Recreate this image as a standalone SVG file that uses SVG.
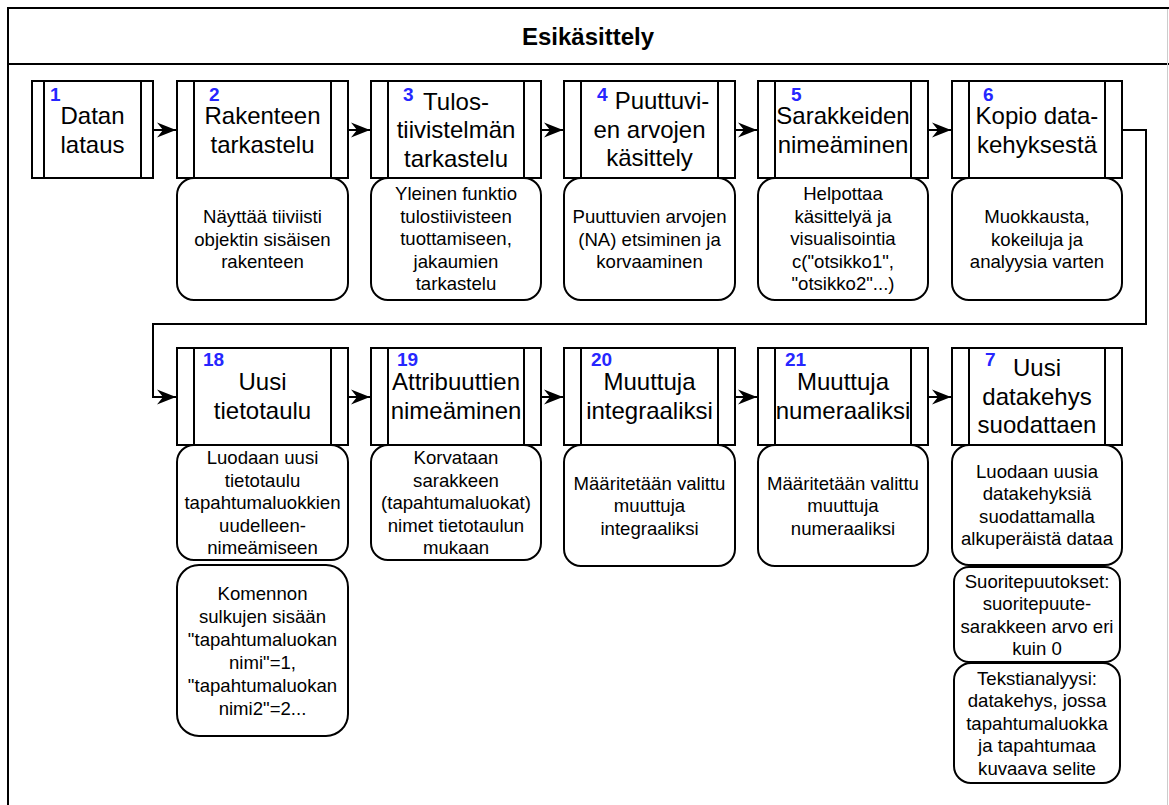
<svg xmlns="http://www.w3.org/2000/svg" width="1169" height="805" viewBox="0 0 1169 805">
  <style>
    .frame { fill: #ffffff; stroke: #000000; stroke-width: 2; }
    .proc { fill: #ffffff; stroke: #000000; stroke-width: 2; }
    .bar { stroke: #000000; stroke-width: 2; }
    .note { fill: #ffffff; stroke: #000000; stroke-width: 2; }
    .title { font-family: "Liberation Sans", Arial, sans-serif; font-size: 24px; fill: #000000; text-anchor: middle; }
    .num { font-family: "Liberation Sans", Arial, sans-serif; font-size: 19px; font-weight: bold; fill: #2626ff; }
    .desc { font-family: "Liberation Sans", Arial, sans-serif; font-size: 18.6px; fill: #000000; text-anchor: middle; }
    .head { font-family: "Liberation Sans", Arial, sans-serif; font-size: 24px; font-weight: bold; fill: #000000; text-anchor: middle; }
    .edge { fill: none; stroke: #000000; stroke-width: 2; }
  </style>
  <defs>
    <marker id="arrow" markerUnits="userSpaceOnUse" markerWidth="22" markerHeight="18" viewBox="-20 -9 22 18" refX="0" refY="0" orient="auto">
      <path d="M0,0 L-19,-7.5 L-13,0 L-19,7.5 Z" fill="#000000"/>
    </marker>
  </defs>

  <rect width="1169" height="805" fill="#ffffff"/>

  <!-- swimlane container -->
  <g id="container">
    <rect class="frame" x="8" y="8" width="1180" height="820"/>
    <line x1="8" y1="64" x2="1169" y2="64" stroke="#000000" stroke-width="2"/>
    <text class="head" x="588" y="44.5">Esikäsittely</text>
    <line x1="1167.5" y1="9" x2="1167.5" y2="805" stroke="#cccccc" stroke-width="1"/>
  </g>

  <!-- connectors -->
  <g id="connectors">
    <path class="edge" d="M153,130 H176" marker-end="url(#arrow)"/>
    <path class="edge" d="M348,130 H370" marker-end="url(#arrow)"/>
    <path class="edge" d="M541,130 H563" marker-end="url(#arrow)"/>
    <path class="edge" d="M735,130 H757" marker-end="url(#arrow)"/>
    <path class="edge" d="M928,130 H951" marker-end="url(#arrow)"/>
    <path class="edge" d="M1122,130 H1146 V324 H153 V397 H176" marker-end="url(#arrow)"/>
    <path class="edge" d="M348,397 H370" marker-end="url(#arrow)"/>
    <path class="edge" d="M541,397 H563" marker-end="url(#arrow)"/>
    <path class="edge" d="M735,397 H757" marker-end="url(#arrow)"/>
    <path class="edge" d="M928,397 H951" marker-end="url(#arrow)"/>
  </g>

  <!-- row 1 -->
  <g id="node1">
    <rect class="proc" x="32" y="81" width="121" height="97"/>
    <line class="bar" x1="44" y1="81" x2="44" y2="178"/>
    <line class="bar" x1="141" y1="81" x2="141" y2="178"/>
    <text class="num" x="50" y="101">1</text>
    <text class="title"><tspan x="92.5" y="123.5">Datan</tspan><tspan x="92.5" y="152.5">lataus</tspan></text>
  </g>

  <g id="node2">
    <rect class="proc" x="177" y="81" width="171" height="97"/>
    <line class="bar" x1="194" y1="81" x2="194" y2="178"/>
    <line class="bar" x1="331" y1="81" x2="331" y2="178"/>
    <text class="num" x="209" y="101">2</text>
    <text class="title"><tspan x="262.5" y="123.5">Rakenteen</tspan><tspan x="262.5" y="152.5">tarkastelu</tspan></text>
  </g>
  <g id="desc2">
    <rect class="note" x="177" y="178" width="171" height="122" rx="17"/>
    <text class="desc"><tspan x="262.5" y="223">Näyttää tiiviisti</tspan><tspan x="262.5" y="245.5">objektin sisäisen</tspan><tspan x="262.5" y="268">rakenteen</tspan></text>
  </g>

  <g id="node3">
    <rect class="proc" x="371" y="81" width="170" height="97"/>
    <line class="bar" x1="388" y1="81" x2="388" y2="178"/>
    <line class="bar" x1="524" y1="81" x2="524" y2="178"/>
    <text class="num" x="403" y="101">3</text>
    <text class="title"><tspan x="456" y="109.5">Tulos-</tspan><tspan x="456" y="138">tiivistelmän</tspan><tspan x="456" y="166.5">tarkastelu</tspan></text>
  </g>
  <g id="desc3">
    <rect class="note" x="371" y="178" width="170" height="122" rx="17"/>
    <text class="desc"><tspan x="456" y="200">Yleinen funktio</tspan><tspan x="456" y="222.5">tulostiivisteen</tspan><tspan x="456" y="245">tuottamiseen,</tspan><tspan x="456" y="267.5">jakaumien</tspan><tspan x="456" y="290">tarkastelu</tspan></text>
  </g>

  <g id="node4">
    <rect class="proc" x="564" y="81" width="171" height="97"/>
    <line class="bar" x1="581" y1="81" x2="581" y2="178"/>
    <line class="bar" x1="718" y1="81" x2="718" y2="178"/>
    <text class="num" x="597" y="101">4</text>
    <text class="title"><tspan x="662" y="108.5">Puuttuvi-</tspan><tspan x="649.5" y="137.5">en arvojen</tspan><tspan x="649.5" y="166">käsittely</tspan></text>
  </g>
  <g id="desc4">
    <rect class="note" x="564" y="178" width="171" height="122" rx="17"/>
    <text class="desc"><tspan x="649.5" y="223">Puuttuvien arvojen</tspan><tspan x="649.5" y="245.5">(NA) etsiminen ja</tspan><tspan x="649.5" y="268">korvaaminen</tspan></text>
  </g>

  <g id="node5">
    <rect class="proc" x="758" y="81" width="170" height="97"/>
    <line class="bar" x1="775" y1="81" x2="775" y2="178"/>
    <line class="bar" x1="911" y1="81" x2="911" y2="178"/>
    <text class="num" x="791" y="101">5</text>
    <text class="title"><tspan x="843" y="123.5">Sarakkeiden</tspan><tspan x="843" y="152.5">nimeäminen</tspan></text>
  </g>
  <g id="desc5">
    <rect class="note" x="758" y="178" width="170" height="122" rx="17"/>
    <text class="desc"><tspan x="843" y="200">Helpottaa</tspan><tspan x="843" y="222.5">käsittelyä ja</tspan><tspan x="843" y="245">visualisointia</tspan><tspan x="843" y="267.5">c("otsikko1",</tspan><tspan x="843" y="290">"otsikko2"...)</tspan></text>
  </g>

  <g id="node6">
    <rect class="proc" x="952" y="81" width="170" height="97"/>
    <line class="bar" x1="969" y1="81" x2="969" y2="178"/>
    <line class="bar" x1="1105" y1="81" x2="1105" y2="178"/>
    <text class="num" x="983" y="101">6</text>
    <text class="title"><tspan x="1037" y="123.5">Kopio data-</tspan><tspan x="1037" y="152.5">kehyksestä</tspan></text>
  </g>
  <g id="desc6">
    <rect class="note" x="952" y="178" width="170" height="122" rx="17"/>
    <text class="desc"><tspan x="1037" y="223">Muokkausta,</tspan><tspan x="1037" y="245.5">kokeiluja ja</tspan><tspan x="1037" y="268">analyysia varten</tspan></text>
  </g>

  <!-- row 2 -->
  <g id="node18">
    <rect class="proc" x="177" y="348" width="171" height="97"/>
    <line class="bar" x1="194" y1="348" x2="194" y2="445"/>
    <line class="bar" x1="331" y1="348" x2="331" y2="445"/>
    <text class="num" x="203" y="366">18</text>
    <text class="title"><tspan x="262.5" y="390">Uusi</tspan><tspan x="262.5" y="419">tietotaulu</tspan></text>
  </g>
  <g id="desc18a">
    <rect class="note" x="177" y="445" width="171" height="115" rx="17"/>
    <text class="desc"><tspan x="262.5" y="464">Luodaan uusi</tspan><tspan x="262.5" y="486.5">tietotaulu</tspan><tspan x="262.5" y="509">tapahtumaluokkien</tspan><tspan x="262.5" y="531.5">uudelleen-</tspan><tspan x="262.5" y="554">nimeämiseen</tspan></text>
  </g>
  <g id="desc18b">
    <rect class="note" x="177" y="565" width="171" height="171" rx="22"/>
    <text class="desc"><tspan x="262.5" y="599.5">Komennon</tspan><tspan x="262.5" y="622.5">sulkujen sisään</tspan><tspan x="262.5" y="645.5">"tapahtumaluokan</tspan><tspan x="262.5" y="668.5">nimi"=1,</tspan><tspan x="262.5" y="691.5">"tapahtumaluokan</tspan><tspan x="262.5" y="714.5">nimi2"=2...</tspan></text>
  </g>

  <g id="node19">
    <rect class="proc" x="371" y="348" width="170" height="97"/>
    <line class="bar" x1="388" y1="348" x2="388" y2="445"/>
    <line class="bar" x1="524" y1="348" x2="524" y2="445"/>
    <text class="num" x="397" y="366">19</text>
    <text class="title"><tspan x="456" y="390">Attribuuttien</tspan><tspan x="456" y="419">nimeäminen</tspan></text>
  </g>
  <g id="desc19">
    <rect class="note" x="371" y="445" width="170" height="115" rx="17"/>
    <text class="desc"><tspan x="456" y="464">Korvataan</tspan><tspan x="456" y="486.5">sarakkeen</tspan><tspan x="456" y="509">(tapahtumaluokat)</tspan><tspan x="456" y="531.5">nimet tietotaulun</tspan><tspan x="456" y="554">mukaan</tspan></text>
  </g>

  <g id="node20">
    <rect class="proc" x="564" y="348" width="171" height="97"/>
    <line class="bar" x1="581" y1="348" x2="581" y2="445"/>
    <line class="bar" x1="718" y1="348" x2="718" y2="445"/>
    <text class="num" x="591" y="366">20</text>
    <text class="title"><tspan x="649.5" y="390">Muuttuja</tspan><tspan x="649.5" y="419">integraaliksi</tspan></text>
  </g>
  <g id="desc20">
    <rect class="note" x="564" y="445" width="171" height="121" rx="17"/>
    <text class="desc"><tspan x="649.5" y="489.5">Määritetään valittu</tspan><tspan x="649.5" y="512">muuttuja</tspan><tspan x="649.5" y="534.5">integraaliksi</tspan></text>
  </g>

  <g id="node21">
    <rect class="proc" x="758" y="348" width="170" height="97"/>
    <line class="bar" x1="775" y1="348" x2="775" y2="445"/>
    <line class="bar" x1="911" y1="348" x2="911" y2="445"/>
    <text class="num" x="785" y="366">21</text>
    <text class="title"><tspan x="843" y="390">Muuttuja</tspan><tspan x="843" y="419">numeraaliksi</tspan></text>
  </g>
  <g id="desc21">
    <rect class="note" x="758" y="445" width="170" height="121" rx="17"/>
    <text class="desc"><tspan x="843" y="489.5">Määritetään valittu</tspan><tspan x="843" y="512">muuttuja</tspan><tspan x="843" y="534.5">numeraaliksi</tspan></text>
  </g>

  <g id="node7">
    <rect class="proc" x="952" y="348" width="170" height="97"/>
    <line class="bar" x1="969" y1="348" x2="969" y2="445"/>
    <line class="bar" x1="1105" y1="348" x2="1105" y2="445"/>
    <text class="num" x="985" y="366">7</text>
    <text class="title"><tspan x="1037" y="376">Uusi</tspan><tspan x="1037" y="404.5">datakehys</tspan><tspan x="1037" y="433">suodattaen</tspan></text>
  </g>
  <g id="desc7a">
    <rect class="note" x="952" y="445" width="170" height="120" rx="17"/>
    <text class="desc"><tspan x="1037" y="477.5">Luodaan uusia</tspan><tspan x="1037" y="500">datakehyksiä</tspan><tspan x="1037" y="522.5">suodattamalla</tspan><tspan x="1037" y="545">alkuperäistä dataa</tspan></text>
  </g>
  <g id="desc7b">
    <rect class="note" x="954" y="567" width="166" height="95" rx="15"/>
    <text class="desc"><tspan x="1037" y="587.5">Suoritepuutokset:</tspan><tspan x="1037" y="610">suoritepuute-</tspan><tspan x="1037" y="632.5">sarakkeen arvo eri</tspan><tspan x="1037" y="655">kuin 0</tspan></text>
  </g>
  <g id="desc7c">
    <rect class="note" x="954" y="663" width="166" height="120" rx="17"/>
    <text class="desc"><tspan x="1037" y="684.5">Tekstianalyysi:</tspan><tspan x="1037" y="707">datakehys, jossa</tspan><tspan x="1037" y="729.5">tapahtumaluokka</tspan><tspan x="1037" y="752">ja tapahtumaa</tspan><tspan x="1037" y="774.5">kuvaava selite</tspan></text>
  </g>
</svg>
